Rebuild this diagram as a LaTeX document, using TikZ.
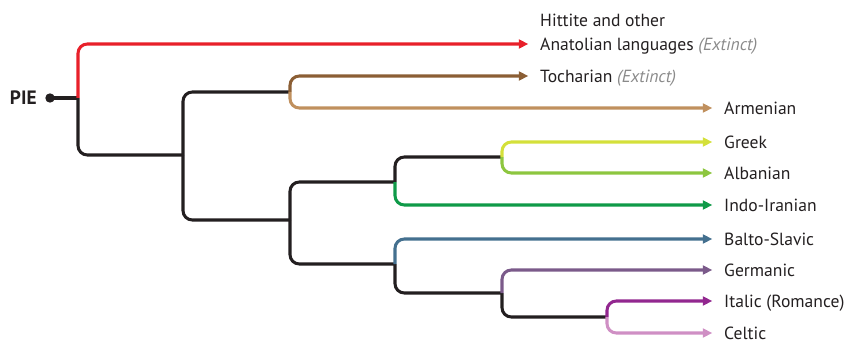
\documentclass[tikz,border=0pt]{standalone}
\usepackage{fontspec}
\setmainfont{PT Sans}
\usetikzlibrary{arrows.meta,positioning}

\definecolor{treeblack}{HTML}{231F20}
\definecolor{hittitered}{HTML}{E8202A}
\definecolor{tochbrown}{HTML}{8B5E34}
\definecolor{armtan}{HTML}{C0905E}
\definecolor{greekyellow}{HTML}{D4E03A}
\definecolor{albgreen}{HTML}{8DC63F}
\definecolor{indogreen}{HTML}{0F9A48}
\definecolor{baltoblue}{HTML}{44708F}
\definecolor{germpurple}{HTML}{7B5A8A}
\definecolor{italmagenta}{HTML}{92278F}
\definecolor{celtpink}{HTML}{CF8FC4}
\definecolor{extinctgray}{HTML}{8A8A8A}

\begin{document}
\begin{tikzpicture}[x=0.03cm, y=-0.03cm,
  font=\fontsize{15}{17}\selectfont,
  branch/.style={line width=2.6pt, rounded corners=8pt},
  leaf/.style={branch, -{Triangle[length=8pt,width=7.5pt]}, shorten >=10pt},
  lang/.style={anchor=west, inner sep=0pt, text height=10.5pt, text depth=0pt, text=treeblack}]
  \useasboundingbox (0,0) rectangle (845,342);

  % Branch points
  \path
  (78,98) coordinate(root)
  (183,155) coordinate(n1)
  (290,92) coordinate(n2)
  (290,220) coordinate(n3)
  (395,182) coordinate(n4)
  (502,157) coordinate(n5)
  (395,264) coordinate(n6)
  (502,293) coordinate(n7)
  (607,317) coordinate(n8);

  % Root
  \node[circle, fill=treeblack, inner sep=0pt, minimum size=8pt] (pie) at (50,98) {};
  \node[lang, anchor=east, font=\fontsize{16.5}{18}\selectfont\bfseries, text height=11.5pt, left=7pt of pie] (pielabel) {PIE};

  % Language labels
  \node[lang] (hittite) at (540,20) {Hittite and other};
  \node[lang] (anatolian) at (540,44) {Anatolian languages \textcolor{extinctgray}{\textit{(Extinct)}}};
  \node[lang] (tocharian) at (540,76) {Tocharian \textcolor{extinctgray}{\textit{(Extinct)}}};
  \node[lang] (armenian) at (724,108) {Armenian};
  \node[lang] (greek) at (724,142) {Greek};
  \node[lang] (albanian) at (724,173) {Albanian};
  \node[lang] (indoiranian) at (724,205) {Indo-Iranian};
  \node[lang] (baltoslavic) at (724,239) {Balto-Slavic};
  \node[lang] (germanic) at (724,270) {Germanic};
  \node[lang] (italic) at (724,301) {Italic (Romance)};
  \node[lang] (celtic) at (724,333) {Celtic};

  % Inner branches
  \draw[branch, treeblack] (pie.center) -- (root);
  \draw[branch, treeblack] (root) |- (n1);
  \draw[branch, treeblack] (n1) |- (n2);
  \draw[branch, treeblack] (n1) |- (n3);
  \draw[branch, treeblack] (n3) |- (n4);
  \draw[branch, treeblack] (n3) |- (n6);
  \draw[branch, treeblack] (n4) |- (n5);
  \draw[branch, treeblack] (n6) |- (n7);
  \draw[branch, treeblack] (n7) |- (n8);

  % Leaves
  \draw[leaf, hittitered] (root) |- (anatolian.west);
  \draw[leaf, tochbrown] (n2) |- (tocharian.west);
  \draw[leaf, armtan] (n2) |- (armenian.west);
  \draw[leaf, greekyellow] (n5) |- (greek.west);
  \draw[leaf, albgreen] (n5) |- (albanian.west);
  \draw[leaf, indogreen] (n4) |- (indoiranian.west);
  \draw[leaf, baltoblue] (n6) |- (baltoslavic.west);
  \draw[leaf, germpurple] (n7) |- (germanic.west);
  \draw[leaf, italmagenta] (n8) |- (italic.west);
  \draw[leaf, celtpink] (n8) |- (celtic.west);
\end{tikzpicture}
\end{document}
